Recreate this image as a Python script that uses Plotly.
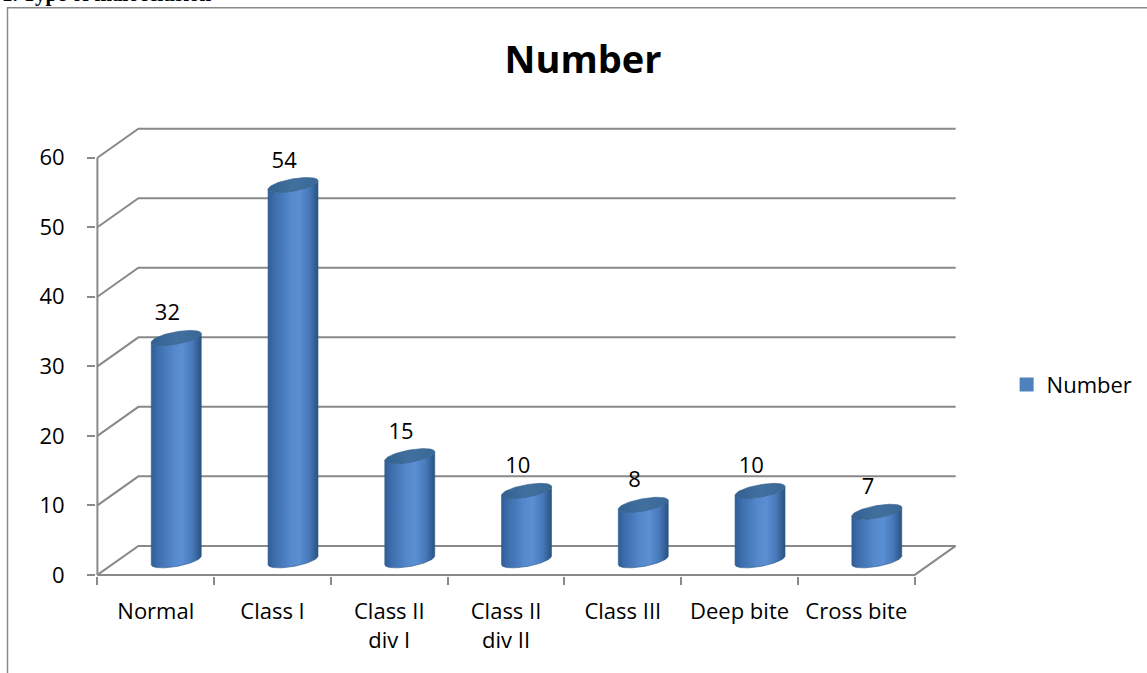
import numpy as np
import plotly.graph_objects as go

# ---------------- data ----------------
categories = ["Normal", "Class I", "Class II<br>div I", "Class II<br>div II",
              "Class III", "Deep bite", "Cross bite"]
values = [32, 54, 15, 10, 8, 10, 7]
series_name = "Number"
y_ticks = [0, 10, 20, 30, 40, 50, 60]
y_max = 60

# ---------------- geometry / style ----------------
W_PX, H_PX = 1147, 673
X0_PX, X7_PX = 97, 915          # front floor edge ends
Y0_PX, Y60_PX = 575, 158        # front axis 0 and 60
n = len(categories)
ppx = (X7_PX - X0_PX) / n        # px per category
ppy = (Y0_PX - Y60_PX) / y_max   # px per value unit

DX = 41 / ppx                    # depth offset in category units
DY = 29 / ppy                    # depth offset in value units

xmin, xmax = -0.012, n + DX + 0.02
ymin, ymax = -0.16, y_max + DY + 0.25
m_l = X0_PX + xmin * ppx
m_r = W_PX - (X0_PX + xmax * ppx)
m_b = H_PX - (Y0_PX - ymin * ppy)
m_t = Y0_PX - ymax * ppy
plot_w = W_PX - m_l - m_r
plot_h = H_PX - m_t - m_b

def px_to_paper_x(px):
    return (px - m_l) / plot_w

def px_to_paper_y(py):
    return (H_PX - m_b - py) / plot_h

GRID = "#898989"
FONT = "Open Sans"
FS = 22

fig = go.Figure()

# perspective gridlines (back wall + left side)
gx, gy = [], []
for v in y_ticks:
    gx += [0, DX, n + DX, None]
    gy += [v, v + DY, v + DY, None]
fig.add_trace(go.Scatter(x=gx, y=gy, mode="lines", line=dict(color=GRID, width=2),
                         hoverinfo="skip", showlegend=False))
# front floor edge + right floor edge + front vertical axis
fig.add_trace(go.Scatter(x=[0, n, n + DX, None, 0, 0], y=[0, 0, DY, None, 0, y_max],
                         mode="lines", line=dict(color=GRID, width=2),
                         hoverinfo="skip", showlegend=False))

# cylinders
A = 20.5 / ppx
P = 14.3 / ppx
Q = 7.5 / ppy
Wd = np.hypot(A, P)
t0 = np.arctan2(P, A)

body_scale = [[0.0, "#305D96"], [0.12, "#3C6CAB"], [0.45, "#5489CC"],
              [0.62, "#5B8FD3"], [0.82, "#4779BA"], [1.0, "#2A5283"]]
top_scale = [[0.0, "#33608F"], [0.5, "#41709F"], [1.0, "#3A6796"]]

for i, v in enumerate(values):
    xc = i + 0.5 + DX / 2
    yb = DY / 2
    yt = v + DY / 2
    tf = np.linspace(t0 + np.pi, t0 + 2 * np.pi, 60)
    bx = xc + A * np.cos(tf) + P * np.sin(tf)
    by = yb + Q * np.sin(tf)
    tx = xc + A * np.cos(tf[::-1]) + P * np.sin(tf[::-1])
    ty = yt + Q * np.sin(tf[::-1])
    fig.add_trace(go.Scatter(
        x=np.concatenate([bx, tx, bx[:1]]), y=np.concatenate([by, ty, by[:1]]),
        mode="lines", fill="toself", line=dict(color="#2F5B8C", width=0.6),
        fillgradient=dict(type="horizontal", colorscale=body_scale,
                          start=xc - Wd, stop=xc + Wd),
        hoverinfo="skip", showlegend=False))
    ta = np.linspace(0, 2 * np.pi, 90)
    fig.add_trace(go.Scatter(
        x=xc + A * np.cos(ta) + P * np.sin(ta), y=yt + Q * np.sin(ta),
        mode="lines", fill="toself", line=dict(color="#36638F", width=0.6),
        fillgradient=dict(type="horizontal", colorscale=top_scale,
                          start=xc - Wd, stop=xc + Wd),
        hoverinfo="skip", showlegend=False))

# data labels
fig.add_trace(go.Scatter(
    x=[i + 0.6 for i in range(n)], y=[v + DY / 2 + 3.3 for v in values],
    mode="text", text=[str(v) for v in values],
    textfont=dict(family=FONT, size=FS, color="#000000"),
    hoverinfo="skip", showlegend=False, cliponaxis=False))

# legend entry
fig.add_trace(go.Scatter(x=[None], y=[None], mode="markers", name=series_name,
                         marker=dict(symbol="square", size=14, color="#4F81BD")))

fig.update_layout(
    width=W_PX, height=H_PX,
    template="none",
    paper_bgcolor="white", plot_bgcolor="rgba(0,0,0,0)",
    margin=dict(l=m_l, r=m_r, t=m_t, b=m_b, autoexpand=False),
    font=dict(family=FONT, size=FS, color="#000000"),
    title=dict(text="<b>Number</b>", x=px_to_paper_x(583), xref="paper", xanchor="center",
               y=1 - 60 / H_PX, yref="container", yanchor="middle",
               font=dict(family=FONT, size=38, color="#000000")),
    showlegend=True,
    legend=dict(x=px_to_paper_x(1007), y=px_to_paper_y(385), xanchor="left", yanchor="middle",
                font=dict(family=FONT, size=FS), bgcolor="rgba(0,0,0,0)"),
    xaxis=dict(range=[xmin, xmax], showgrid=False, zeroline=False, showline=False,
               tickmode="array", tickvals=[i + 0.5 for i in range(n)], ticktext=categories,
               ticks="", ticklabelstandoff=20, automargin=False,
               tickfont=dict(family=FONT, size=FS),
               minor=dict(tickmode="array", tickvals=list(range(n + 1)), ticks="outside",
                          ticklen=8, tickwidth=2, tickcolor=GRID, showgrid=False)),
    yaxis=dict(range=[ymin, ymax], showgrid=False, zeroline=False, showline=False,
               tickmode="array", tickvals=y_ticks, ticks="outside", ticklen=8,
               tickwidth=2, tickcolor=GRID, ticklabelstandoff=18, automargin=False,
               tickfont=dict(family=FONT, size=FS)),
    shapes=[dict(type="rect", xref="paper", yref="paper",
                 x0=px_to_paper_x(7), x1=px_to_paper_x(1300),
                 y0=px_to_paper_y(800), y1=px_to_paper_y(8),
                 line=dict(color="#8A8A8A", width=1.5), fillcolor="rgba(0,0,0,0)", layer="below")],
    annotations=[dict(text="<b>1. Type of malocclusion</b>", xref="paper", yref="paper",
                      x=px_to_paper_x(0), y=px_to_paper_y(8), xanchor="left", yanchor="bottom",
                      showarrow=False, font=dict(family="Liberation Serif", size=21, color="#000"))],
)

fig.write_html("out.html")
